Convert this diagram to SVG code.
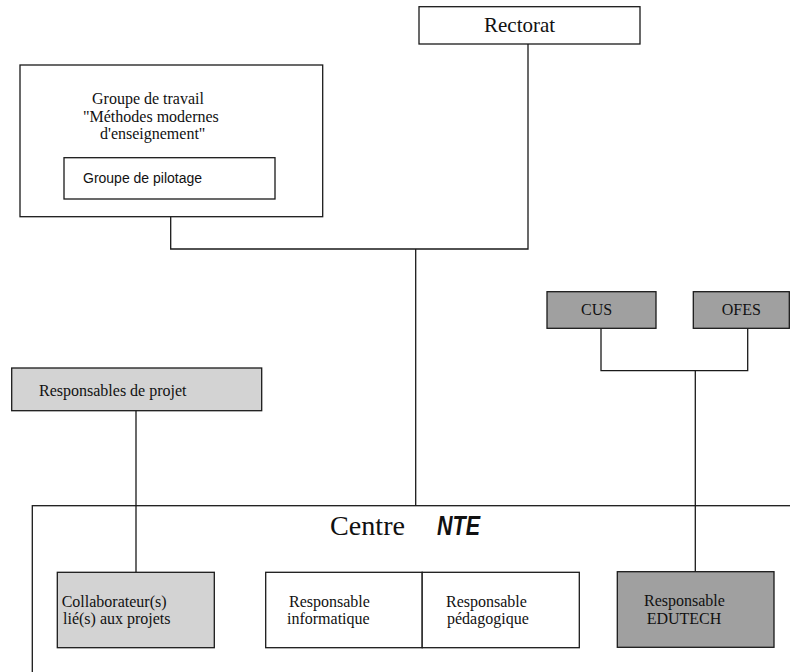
<svg xmlns="http://www.w3.org/2000/svg" width="790" height="672" viewBox="0 0 790 672">
<style>
.box{stroke:#1a1a1a;stroke-width:1.3;fill:#fff}
.light{fill:#d3d3d3}
.dark{fill:#a0a0a0}
.con{stroke:#1a1a1a;stroke-width:1.3;fill:none}
.t{font-family:"Liberation Serif","Times New Roman",serif;font-size:16px;fill:#111}
.s{font-family:"Liberation Sans",Arial,sans-serif;font-size:14px;fill:#111}
</style>
<rect width="790" height="672" fill="#fff"/>
<g id="centre-nte">
<rect class="box" x="32.3" y="505.7" width="800" height="220"/>
<text class="t" x="330" y="535" style="font-size:28px" textLength="75" lengthAdjust="spacingAndGlyphs">Centre</text>
<text x="437" y="535" font-family="Liberation Sans, Arial, sans-serif" font-weight="bold" font-style="italic" font-size="28" textLength="43" lengthAdjust="spacingAndGlyphs" fill="#111">NTE</text>
</g>
<g id="connectors">
<path class="con" d="M170.7 216.7V249H528V44"/>
<path class="con" d="M415.7 249V505.7"/>
<path class="con" d="M136 410.7V572.3"/>
<path class="con" d="M601 328.3V370.7H747.7V328.3"/>
<path class="con" d="M695.3 370.7V571.7"/>
</g>
<g id="rectorat">
<rect class="box" x="419" y="6.7" width="221" height="37.3"/>
<text class="t" x="484" y="32.3" style="font-size:21px">Rectorat</text>
</g>
<g id="groupe-travail">
<rect class="box" x="20" y="65" width="302.7" height="151.7"/>
<text class="t" x="92" y="104">Groupe de travail</text>
<text class="t" x="83" y="121.5">"Méthodes modernes</text>
<text class="t" x="100" y="139">d'enseignement"</text>
</g>
<g id="groupe-pilotage">
<rect class="box" x="64" y="157.7" width="211" height="41.3"/>
<text class="s" x="83" y="183">Groupe de pilotage</text>
</g>
<g id="cus">
<rect class="box dark" x="547" y="291.7" width="109" height="36.6"/>
<text class="t" x="581" y="315">CUS</text>
</g>
<g id="ofes">
<rect class="box dark" x="693.3" y="291.7" width="96" height="36.6"/>
<text class="t" x="721.7" y="315">OFES</text>
</g>
<g id="responsables-projet">
<rect class="box light" x="11.7" y="368" width="250" height="42.7"/>
<text class="t" x="39" y="395.5">Responsables de projet</text>
</g>
<g id="collaborateurs">
<rect class="box light" x="57.3" y="572.3" width="157" height="75.4"/>
<text class="t" x="61.7" y="606.5">Collaborateur(s)</text>
<text class="t" x="63" y="624">lié(s) aux projets</text>
</g>
<g id="responsable-informatique">
<rect class="box" x="265.7" y="572.3" width="156.5" height="75.4"/>
<text class="t" x="289" y="606.5">Responsable</text>
<text class="t" x="287" y="624">informatique</text>
</g>
<g id="responsable-pedagogique">
<rect class="box" x="422.2" y="572.3" width="157.1" height="75.4"/>
<text class="t" x="446" y="606.5">Responsable</text>
<text class="t" x="447" y="624">pédagogique</text>
</g>
<g id="responsable-edutech">
<rect class="box dark" x="617.3" y="571.7" width="156.7" height="75.6"/>
<text class="t" x="644" y="606">Responsable</text>
<text class="t" x="646.7" y="624">EDUTECH</text>
</g>
</svg>
